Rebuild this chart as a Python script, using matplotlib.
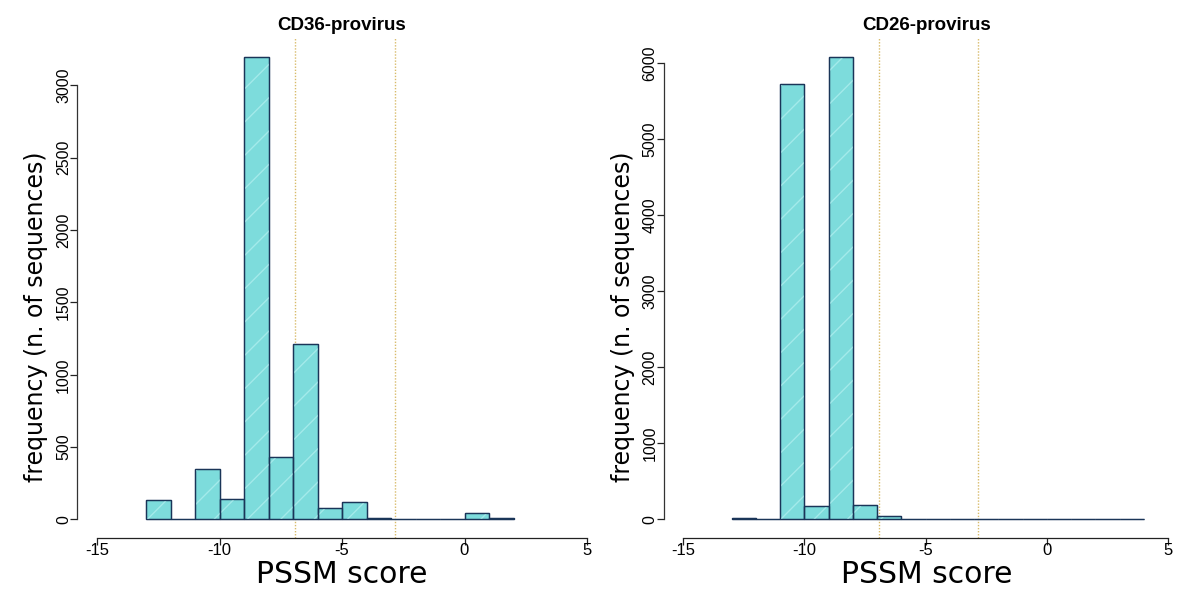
import matplotlib
matplotlib.use("Agg")
import matplotlib.pyplot as plt
import numpy as np

plt.rcParams['axes.unicode_minus'] = False

# ---- data ----
left_title = "CD36-provirus"
right_title = "CD26-provirus"
left_breaks = list(range(-13, 3))           # -13 .. 2
left_counts = [135, 0, 350, 143, 3200, 433, 1210, 81, 122, 12, 0, 0, 0, 46, 7]
right_breaks = list(range(-13, 5))          # -13 .. 4
right_counts = [25, 0, 5725, 175, 6090, 189, 44, 0, 0, 0, 0, 0, 0, 0, 0, 0, 0]
threshold_lines = [-6.93, -2.85]
x_ticks = [-15, -10, -5, 0, 5]
left_yticks = [0, 500, 1000, 1500, 2000, 2500, 3000]
right_yticks = [0, 1000, 2000, 3000, 4000, 5000, 6000]
xlabel = "PSSM score"
ylabel = "frequency (n. of sequences)"

W, H = 1200, 590
fig = plt.figure(figsize=(W / 100, H / 100), dpi=100)

fill_c = "#7ddcdc"
hatch_c = "#a3eaea"
edge_c = "#1a3558"
vline_c = "#d8bb6a"
tick_font = ["Liberation Sans", "DejaVu Sans"]


def px_axes(x0, x1, y0, y1):
    return fig.add_axes([x0 / W, 1 - y1 / H, (x1 - x0) / W, (y1 - y0) / H])


def draw(ax, breaks, counts, yticks, title, cx):
    edges = np.array(breaks, dtype=float)
    widths = np.diff(edges)
    lefts = edges[:-1]
    ax.bar(lefts, counts, width=widths, align='edge', color=fill_c,
           edgecolor=edge_c, linewidth=0.9, zorder=2)
    ax.bar(lefts, counts, width=widths, align='edge', color='none',
           edgecolor=hatch_c, hatch='/', linewidth=0, zorder=3)
    ax.bar(lefts, counts, width=widths, align='edge', color='none',
           edgecolor=edge_c, linewidth=0.9, zorder=4)
    for v in threshold_lines:
        ax.axvline(v, color=vline_c, linestyle=(0, (1, 1.2)), linewidth=1.0, zorder=1)
    ymax = max(counts)
    ax.set_xlim(-15.8, 5.8)
    ax.set_ylim(-0.04 * ymax, 1.04 * ymax)
    for s in ['top', 'right']:
        ax.spines[s].set_visible(False)
    ax.spines['left'].set_bounds(yticks[0], yticks[-1])
    ax.spines['bottom'].set_bounds(x_ticks[0], x_ticks[-1])
    ax.spines['left'].set_color('#333333')
    ax.spines['bottom'].set_color('#222222')
    ax.spines['left'].set_linewidth(0.9)
    ax.spines['bottom'].set_linewidth(0.9)
    ax.set_xticks(x_ticks)
    ax.set_xticklabels([str(t) for t in x_ticks], fontfamily=tick_font, fontsize=12)
    ax.set_yticks(yticks)
    ax.set_yticklabels([str(t) for t in yticks], fontfamily=tick_font, fontsize=11.5,
                       rotation=90, va='center')
    ax.tick_params(axis='both', direction='out', length=5, width=0.9,
                   colors='#222222', labelcolor='black')
    ax.tick_params(axis='x', pad=-1.5)
    ax.tick_params(axis='y', pad=-0.5)
    ax.patch.set_alpha(0)
    fig.text(cx / W, 1 - 25 / H, title, ha='center', va='center',
             fontfamily=tick_font, fontweight='bold', fontsize=13.5)
    fig.text(cx / W, 1 - 583 / H, xlabel, ha='center', va='baseline',
             fontfamily='DejaVu Sans', fontsize=21.5)


axL = px_axes(77.4, 606.6, 38, 538)
draw(axL, left_breaks, left_counts, left_yticks, left_title, 342)
fig.text(36 / W, 1 - 317 / H, ylabel, rotation=90, ha='center', va='center',
         fontfamily='DejaVu Sans', fontsize=17)

axR = px_axes(663.6, 1187.4, 38, 538)
draw(axR, right_breaks, right_counts, right_yticks, right_title, 927)
fig.text(623 / W, 1 - 317 / H, ylabel, rotation=90, ha='center', va='center',
         fontfamily='DejaVu Sans', fontsize=17)

fig.savefig("out.png", dpi=100, facecolor='white')
